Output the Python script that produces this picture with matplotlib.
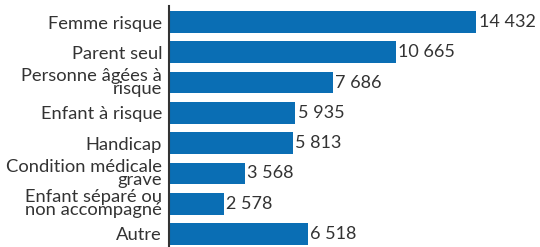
import matplotlib.pyplot as plt

categories = ["Femme risque", "Parent seul", "Personne âgées à\nrisque", "Enfant à risque",
              "Handicap", "Condition médicale\ngrave", "Enfant séparé ou\nnon accompagné", "Autre"]
values = [14432, 10665, 7686, 5935, 5813, 3568, 2578, 6518]
value_labels = ["14 432", "10 665", "7 686", "5 935", "5 813", "3 568", "2 578", "6 518"]

plt.rcParams['font.family'] = ['Lato', 'DejaVu Sans']
text_color = "#333333"
bar_color = "#0a6eb4"

fig = plt.figure(figsize=(5.4, 2.47), dpi=100)
ax = fig.add_axes([169/540, 0, 371/540, 241/247])

y = list(range(len(categories)))
ax.barh(y, values, height=0.72, color=bar_color)
for yi, v, lab in zip(y, values, value_labels):
    ax.text(v + 120, yi, lab, va="center", ha="left", fontsize=13, color=text_color)

ax.set_yticks(y)
ax.set_yticklabels(categories, fontsize=13.2, color=text_color, linespacing=0.76)
ax.tick_params(axis="y", length=0, pad=5)
ax.set_xticks([])
ax.set_xlim(0, 17440)
ax.set_ylim(7.43, -0.53)
for s in ["top", "right", "bottom"]:
    ax.spines[s].set_visible(False)
ax.spines["left"].set_color("#333333")
ax.spines["left"].set_linewidth(1.5)

fig.savefig("out.png", dpi=100)
